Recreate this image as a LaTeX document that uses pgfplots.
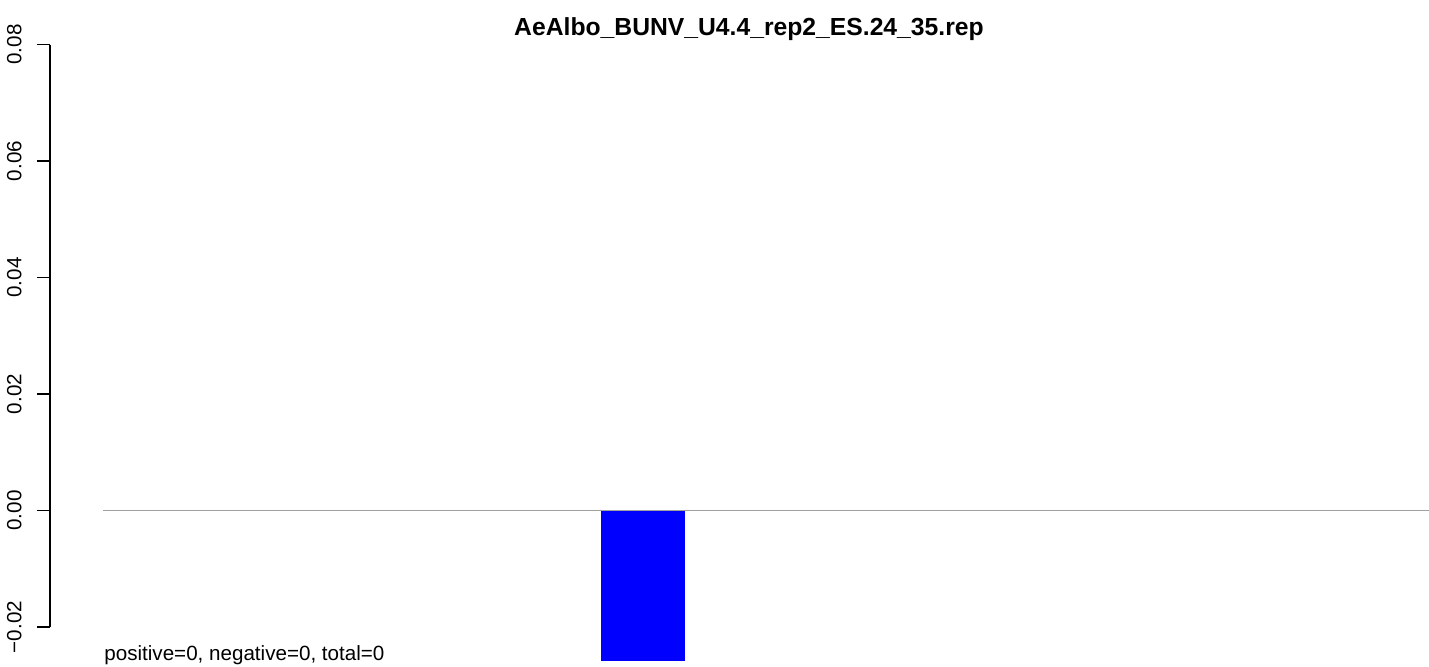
\documentclass[border=0pt]{standalone}
\usepackage{fontspec}
\setmainfont{Liberation Sans}
\usepackage{pgfplots}
\pgfplotsset{compat=1.18}
\definecolor{zeroline}{RGB}{160,160,160}
\begin{document}
\begin{tikzpicture}
\path[use as bounding box] (-25pt,-19.5pt) rectangle (689.5pt,313.5pt);
\begin{axis}[
  at={(0,0)}, anchor=south west,
  scale only axis,
  width=689.5pt, height=291.25pt,
  xmin=0, xmax=1379,
  ymin=-0.02, ymax=0.08,
  axis x line=none,
  axis y line*=left,
  y axis line style={-, line width=0.6pt, black},
  ytick={-0.02,0,0.02,0.04,0.06,0.08},
  yticklabels={−0.02,0.00,0.02,0.04,0.06,0.08},
  scaled y ticks=false,
  tick align=outside,
  major tick length=6.5pt,
  minor tick num=0,
  ytick style={line width=0.6pt, black},
  yticklabel style={rotate=90, anchor=south, inner sep=0pt, font=\fontsize{10.3}{12}\selectfont},
  yticklabel shift=7.5pt,
  clip=false,
  ybar, bar width=84,
]
\addplot[fill=blue, draw=none] coordinates {(593,-0.02575)};
\draw[zeroline, line width=0.6pt] (axis cs:53,0) -- (axis cs:1379,0);
\node[anchor=base, font=\bfseries\fontsize{12.35}{14}\selectfont, inner sep=0pt] at (axis cs:699,0.08163) {AeAlbo\_BUNV\_U4.4\_rep2\_ES.24\_35.rep};
\node[anchor=base west, font=\fontsize{10.3}{12}\selectfont, inner sep=0pt] at (axis cs:54,-0.02575) {positive=0, negative=0, total=0};
\end{axis}
\end{tikzpicture}
\end{document}
